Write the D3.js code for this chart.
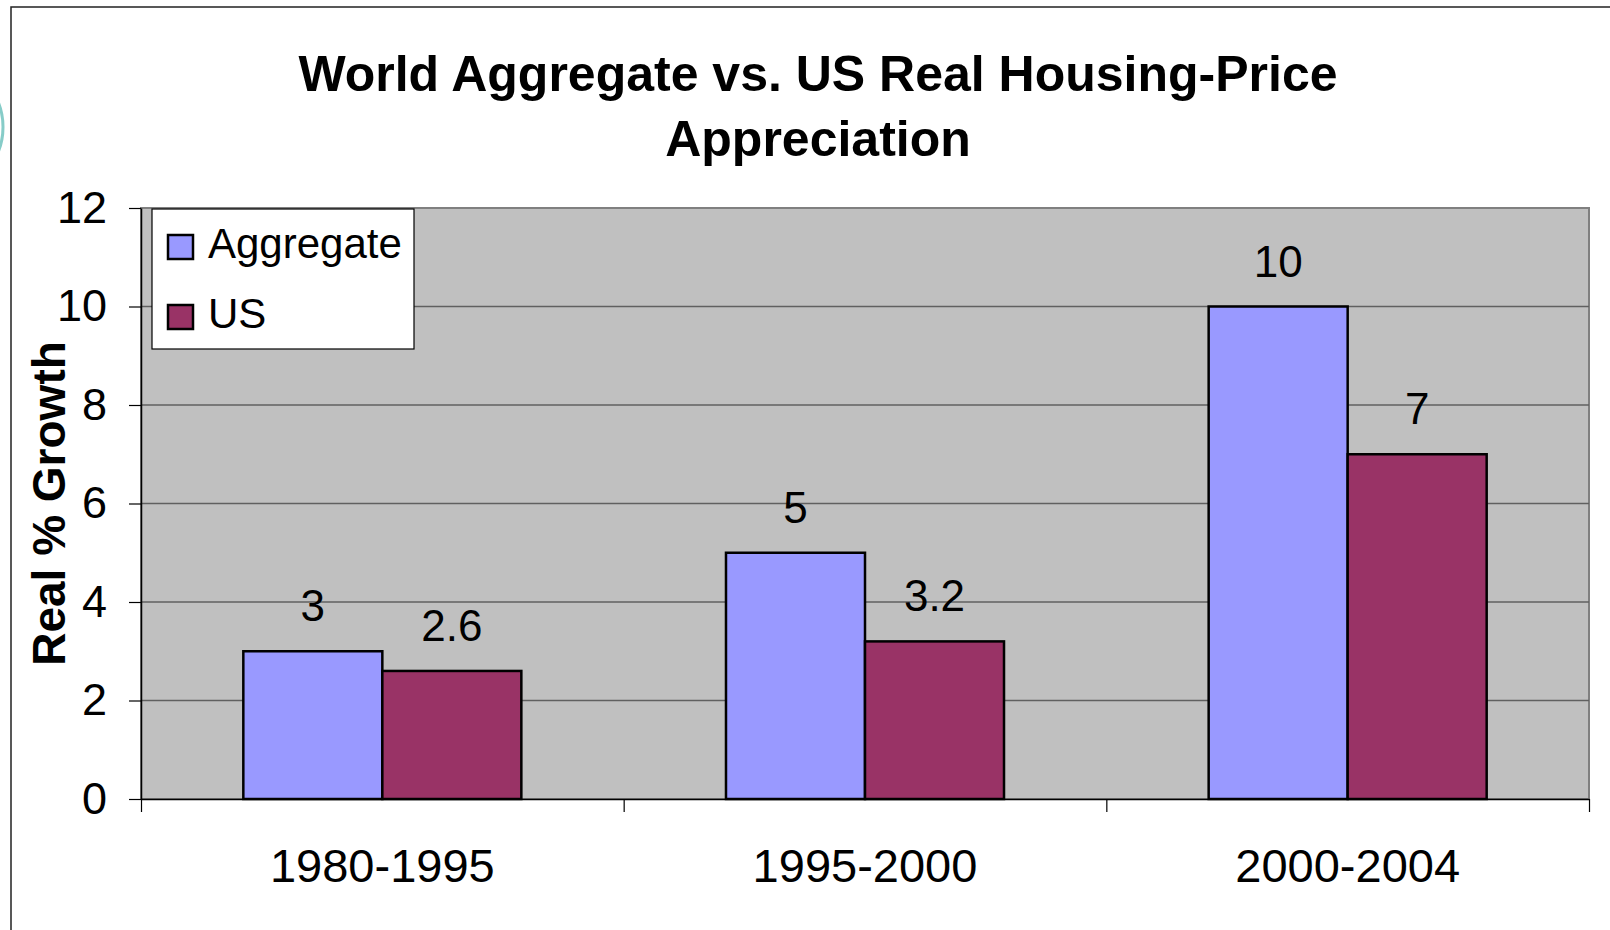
<!DOCTYPE html>
<html>
<head>
<meta charset="utf-8">
<script src="https://cdn.jsdelivr.net/npm/d3@7"></script>
<style>
  body { margin: 0; background: #fff; }
  svg { display: block; font-family: "Liberation Sans", Arial, sans-serif; }
</style>
</head>
<body>
<div id="container"></div>
<script>
// chart data
const categories = ['1980-1995', '1995-2000', '2000-2004'];
const seriesNames = ['Aggregate', 'US'];
const aggregateValues = [3, 5, 10];
const usValues = [2.6, 3.2, 7];
const yTicks = [0, 2, 4, 6, 8, 10, 12];
const titleLines = ['World Aggregate vs. US Real Housing-Price', 'Appreciation'];

const COLORS = { Aggregate: '#9999ff', US: '#993366' };
const W = 1610, H = 930;
const plot = { left: 141, right: 1589, top: 208, bottom: 799 };

const svg = d3.select('#container').append('svg')
  .attr('width', W)
  .attr('height', H);

// slide decoration peeking in at the left edge + outer frame
svg.append('circle')
  .attr('cx', -62).attr('cy', 127).attr('r', 65)
  .style('fill', 'none')
  .style('stroke', '#86ccc8')
  .style('stroke-width', 3);
svg.append('rect')
  .attr('x', 11).attr('y', 7)
  .attr('width', W + 20).attr('height', H + 20)
  .style('fill', '#fff')
  .style('stroke', '#222')
  .style('stroke-width', 1.5);

const x = d3.scaleBand()
  .domain(categories)
  .range([plot.left, plot.right])
  .paddingInner(0.424)
  .paddingOuter(0.212);
const xSeries = d3.scaleBand()
  .domain(seriesNames)
  .range([0, x.bandwidth()]);
const y = d3.scaleLinear()
  .domain([0, 12])
  .range([plot.bottom, plot.top]);

// plot background
svg.append('rect')
  .attr('x', plot.left).attr('y', plot.top)
  .attr('width', plot.right - plot.left)
  .attr('height', plot.bottom - plot.top)
  .style('fill', '#c0c0c0')
  .style('stroke', '#808080')
  .style('stroke-width', 2);

// gridlines
svg.append('g')
  .selectAll('line')
  .data(yTicks.filter(t => t > 0 && t < 12))
  .join('line')
  .attr('x1', plot.left).attr('x2', plot.right)
  .attr('y1', d => y(d)).attr('y2', d => y(d))
  .style('stroke', '#606060')
  .style('stroke-width', 1.5);

// bars
const rows = categories.map((c, i) => ({
  category: c,
  values: [
    { key: 'Aggregate', value: aggregateValues[i] },
    { key: 'US', value: usValues[i] }
  ]
}));

const groups = svg.append('g')
  .selectAll('g')
  .data(rows)
  .join('g')
  .attr('transform', d => `translate(${x(d.category)},0)`);

groups.selectAll('rect')
  .data(d => d.values)
  .join('rect')
  .attr('x', d => xSeries(d.key))
  .attr('y', d => y(d.value))
  .attr('width', xSeries.bandwidth())
  .attr('height', d => y(0) - y(d.value))
  .style('fill', d => COLORS[d.key])
  .style('stroke', '#000')
  .style('stroke-width', 2.5);

groups.selectAll('text')
  .data(d => d.values)
  .join('text')
  .attr('x', d => xSeries(d.key) + xSeries.bandwidth() / 2)
  .attr('y', d => y(d.value) - 30)
  .attr('text-anchor', 'middle')
  .style('font-size', '44px')
  .style('fill', '#000')
  .text(d => d.value);

// y axis
const yAxis = svg.append('g')
  .attr('transform', `translate(${plot.left},0)`)
  .call(d3.axisLeft(y).tickValues(yTicks).tickSize(12).tickSizeOuter(0).tickPadding(22));
yAxis.select('.domain').style('stroke', '#000').style('stroke-width', 1.5);
yAxis.selectAll('.tick line').style('stroke', '#000').style('stroke-width', 1.2);
yAxis.selectAll('text')
  .style('font-size', '45px')
  .style('font-family', '"Liberation Sans", Arial, sans-serif')
  .style('fill', '#000');

// x axis: ticks at the category boundaries
const xBounds = d3.scaleLinear().domain([0, categories.length]).range([plot.left, plot.right]);
const xAxis = svg.append('g')
  .attr('transform', `translate(0,${plot.bottom})`)
  .call(d3.axisBottom(xBounds).tickValues(d3.range(categories.length + 1)).tickSize(13).tickSizeOuter(0).tickFormat(''));
xAxis.select('.domain').style('stroke', '#000').style('stroke-width', 1.5);
xAxis.selectAll('.tick line').style('stroke', '#000').style('stroke-width', 1.2);

svg.append('g')
  .selectAll('text')
  .data(categories)
  .join('text')
  .attr('x', d => x(d) + x.bandwidth() / 2)
  .attr('y', 882)
  .attr('text-anchor', 'middle')
  .style('font-size', '47px')
  .text(d => d);

// y axis title
svg.append('text')
  .attr('transform', `translate(65,${(plot.top + plot.bottom) / 2}) rotate(-90)`)
  .attr('text-anchor', 'middle')
  .style('font-size', '46px')
  .style('font-weight', 'bold')
  .text('Real % Growth');

// title
svg.append('g')
  .selectAll('text')
  .data(titleLines)
  .join('text')
  .attr('x', 818)
  .attr('y', (d, i) => 91 + i * 65)
  .attr('text-anchor', 'middle')
  .style('font-size', '50px')
  .style('font-weight', 'bold')
  .text(d => d);

// legend
const legend = svg.append('g').attr('transform', 'translate(152,209)');
legend.append('rect')
  .attr('width', 262).attr('height', 140)
  .style('fill', '#fff')
  .style('stroke', '#000')
  .style('stroke-width', 1.2);
const items = legend.selectAll('g')
  .data(seriesNames)
  .join('g')
  .attr('transform', (d, i) => `translate(16,${26 + i * 70})`);
items.append('rect')
  .attr('width', 25).attr('height', 24)
  .style('fill', d => COLORS[d])
  .style('stroke', '#000')
  .style('stroke-width', 2.5);
items.append('text')
  .attr('x', 40)
  .attr('y', 23)
  .style('font-size', '42px')
  .text(d => d);
</script>
</body>
</html>
